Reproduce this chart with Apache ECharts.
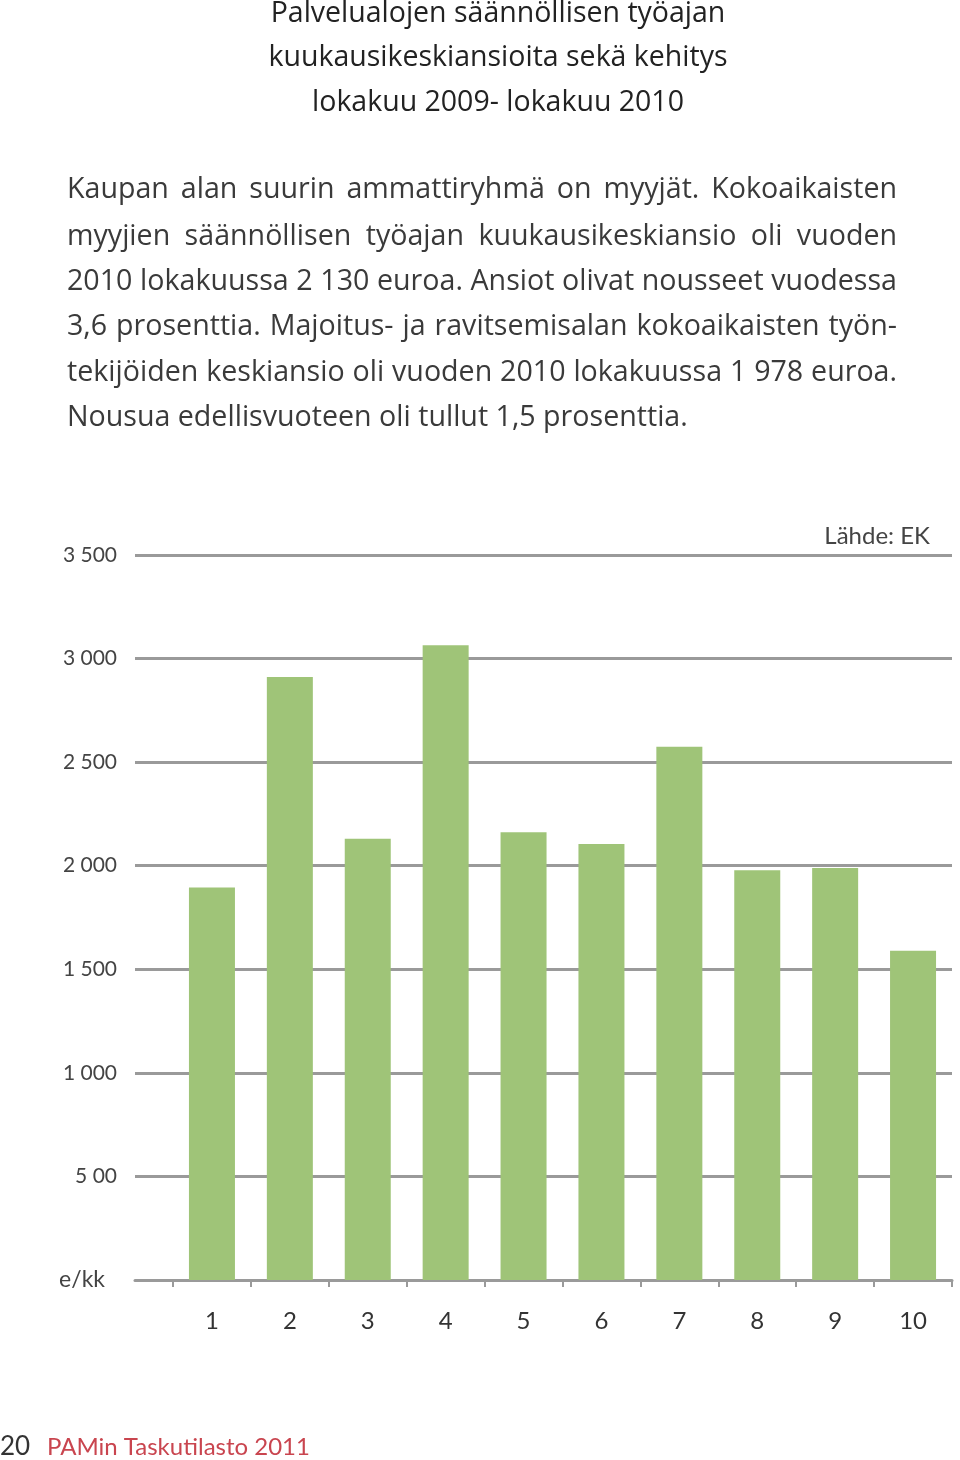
<!DOCTYPE html>
<html>
<head>
<meta charset="utf-8">
<script src="https://cdn.jsdelivr.net/npm/echarts@6/dist/echarts.min.js"></script>
<style>
html,body{margin:0;padding:0;background:#fff;}
#c{width:960px;height:1460px;}
</style>
</head>
<body>
<div id="c"></div>
<script>
// ---- data ----
const categories = ['1','2','3','4','5','6','7','8','9','10'];
const values = [1895, 2911, 2130, 3064, 2161, 2105, 2574, 1978, 1989, 1590];
const yTickLabels = {0:'e/kk',500:'5 00',1000:'1 000',1500:'1 500',2000:'2 000',2500:'2 500',3000:'3 000',3500:'3 500'};
const titleLines = ['Palvelualojen säännöllisen työajan','kuukausikeskiansioita sekä kehitys','lokakuu 2009- lokakuu 2010'];
const bodyLines = [
 'Kaupan alan suurin ammattiryhmä on myyjät. Kokoaikaisten',
 'myyjien säännöllisen työajan kuukausikeskiansio oli vuoden',
 '2010 lokakuussa 2 130 euroa. Ansiot olivat nousseet vuodessa',
 '3,6 prosenttia. Majoitus- ja ravitsemisalan kokoaikaisten työn-',
 'tekijöiden keskiansio oli vuoden 2010 lokakuussa 1 978 euroa.',
 'Nousua edellisvuoteen oli tullut 1,5 prosenttia.'
];
const sourceText = 'Lähde: EK';
const pageNo = '20';
const footerText = 'PAMin Taskutilasto 2011';

// ---- layout helpers ----
const FONT = 'Lato, "Open Sans", sans-serif';
const BFONT = '"Open Sans", Lato, sans-serif';
const cv = document.createElement('canvas').getContext('2d');
function measure(t, size, weight, fam){ cv.font = (weight||'normal')+' '+size+'px '+(fam||FONT); return cv.measureText(t).width; }
function fitSize(t, target, weight, fam, maxSize){ const w = measure(t, 100, weight, fam); return Math.min(maxSize, 100*target/w); }

const graphics = [];
// title
const titleSize = fitSize(titleLines[0], 466, '500', BFONT, 28.5);
const titleY = [14, 58, 103];
titleLines.forEach((t,i)=>{
  graphics.push({type:'text', x:498, y:titleY[i], style:{text:t, font:'500 '+titleSize+'px '+BFONT, fill:'#222', textAlign:'center', textVerticalAlign:'middle'}});
});
// body, justified lines 0..4
const bodySize = fitSize(bodyLines[5], 621, 'normal', BFONT, 29);
const bodyY = [190, 237, 282, 327, 373, 418];
const bodyLeft = 67, bodyRight = 897;
bodyLines.forEach((line,i)=>{
  const words = line.split(' ');
  if (i < bodyLines.length-1 && words.length>1){
    const ws = words.map(w=>measure(w, bodySize, 'normal', BFONT));
    const total = ws.reduce((a,b)=>a+b,0);
    const gap = (bodyRight-bodyLeft-total)/(words.length-1);
    let x = bodyLeft;
    words.forEach((w,k)=>{
      graphics.push({type:'text', x:x, y:bodyY[i], style:{text:w, font:bodySize+'px '+BFONT, fill:'#3a3a3a', textAlign:'left', textVerticalAlign:'middle'}});
      x += ws[k]+gap;
    });
  } else {
    graphics.push({type:'text', x:bodyLeft, y:bodyY[i], style:{text:line, font:bodySize+'px '+BFONT, fill:'#3a3a3a', textAlign:'left', textVerticalAlign:'middle'}});
  }
});
// source
graphics.push({type:'text', x:930, y:536, style:{text:sourceText, font:'24px '+FONT, fill:'#444', textAlign:'right', textVerticalAlign:'middle'}});
// footer
graphics.push({type:'text', x:0, y:1447, style:{text:pageNo, font:'26px '+FONT, fill:'#333', textAlign:'left', textVerticalAlign:'middle'}});
graphics.push({type:'text', x:47, y:1447, style:{text:footerText, font:'24px '+FONT, fill:'#c9454f', textAlign:'left', textVerticalAlign:'middle'}});

const chart = echarts.init(document.getElementById('c'), null, {renderer:'canvas'});
const gridTop = 555, gridBottom = 1460-1280;
chart.setOption({
  animation:false,
  textStyle:{fontFamily:FONT},
  grid:[
    {left:135, right:8, top:gridTop, bottom:gridBottom},
    {left:173, right:8, top:gridTop, bottom:gridBottom}
  ],
  xAxis:[
    {gridIndex:0, type:'value', min:0, max:1, show:true,
     axisLine:{show:true, onZero:false, lineStyle:{color:'#9a9a9a', width:3}},
     axisTick:{show:false}, axisLabel:{show:false}, splitLine:{show:false}},
    {gridIndex:1, type:'category', data:categories,
     axisLine:{show:false},
     axisTick:{show:true, alignWithLabel:false, length:7, lineStyle:{color:'#9a9a9a', width:2}},
     axisLabel:{show:true, color:'#333', fontSize:24, margin:29, fontFamily:FONT}}
  ],
  yAxis:[
    {gridIndex:0, type:'value', min:0, max:3500, interval:500,
     axisLine:{show:false}, axisTick:{show:false},
     splitLine:{show:true, lineStyle:{color:'#9a9a9a', width:3}},
     axisLabel:{show:true, margin:18, color:'#444', fontSize:21, fontFamily:FONT,
       formatter:function(v){ return v===0 ? '{u|'+yTickLabels[v]+'}' : yTickLabels[v]; },
       rich:{u:{fontSize:23, color:'#444', fontFamily:FONT, padding:[0,12,0,0]}}}},
    {gridIndex:1, type:'value', min:0, max:3500, interval:500, show:false, splitLine:{show:false}}
  ],
  series:[{
    type:'bar', xAxisIndex:1, yAxisIndex:1, data:values, barWidth:46,
    itemStyle:{color:'#9fc478'}
  }],
  graphic: graphics
});
</script>
</body>
</html>
